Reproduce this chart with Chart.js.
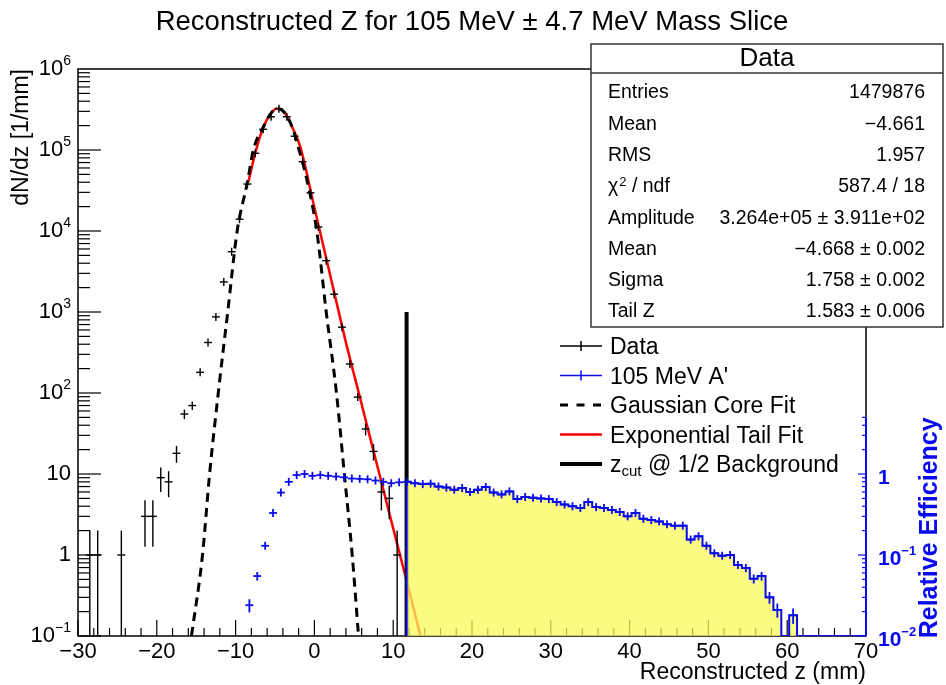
<!DOCTYPE html>
<html>
<head>
<meta charset="utf-8">
<title>Reconstructed Z</title>
<script src="https://cdn.jsdelivr.net/npm/chart.js@4.4.1/dist/chart.umd.min.js"></script>
<style>
  html, body { margin: 0; padding: 0; background: #fff; }
  #myChart { display: block; }
</style>
</head>
<body>
<canvas id="myChart" width="946" height="685"></canvas>
<script>
// measured data: bin centres (mm) and counts per 1 mm bin
const dataZ = [-28.5, -27.5, -24.5, -21.5, -20.5, -19.5, -18.5, -17.5, -16.5, -15.5, -14.5, -13.5, -12.5, -11.5, -10.5, -9.5, -8.5, -7.5, -6.5, -5.5, -4.5, -3.5, -2.5, -1.5, -0.5, 0.5, 1.5, 2.5, 3.5, 4.5, 5.5, 6.5, 7.5, 8.5, 9.5, 10.5];
const dataCounts = [1, 1, 1, 3, 3, 9, 8, 18, 55, 70, 180, 420, 870, 2350, 5550, 14000, 38000, 91000, 180000, 257000, 323000, 257000, 148000, 71800, 29600, 11200, 4300, 1660, 650, 228, 89, 36, 19, 6, 5, 1];

// 105 MeV A' signal, relative efficiency (right axis)
const aprimeZ = [-8.25, -7.25, -6.25, -5.25, -4.25, -3.25, -2.25, -1.25, -0.25, 0.75, 1.75, 2.75, 3.75, 4.75, 5.75, 6.75, 7.75, 8.75, 9.75, 10.75, 11.75, 12.75, 13.75, 14.75, 15.75, 16.75, 17.75, 18.75, 19.75, 20.75, 21.75, 22.75, 23.75, 24.75, 25.75, 26.75, 27.75, 28.75, 29.75, 30.75, 31.75, 32.75, 33.75, 34.75, 35.75, 36.75, 37.75, 38.75, 39.75, 40.75, 41.75, 42.75, 43.75, 44.75, 45.75, 46.75, 47.75, 48.75, 49.75, 50.75, 51.75, 52.75, 53.75, 54.75, 55.75, 56.75, 57.75, 58.75, 59.75, 60.75];
const aprimeEff = [0.024, 0.055, 0.13, 0.33, 0.59, 0.80, 0.97, 1.0, 0.95, 0.97, 0.95, 0.93, 0.91, 0.88, 0.87, 0.86, 0.83, 0.80, 0.77, 0.79, 0.80, 0.77, 0.75, 0.76, 0.70, 0.68, 0.64, 0.67, 0.60, 0.64, 0.69, 0.59, 0.56, 0.61, 0.49, 0.52, 0.51, 0.50, 0.49, 0.45, 0.42, 0.40, 0.38, 0.45, 0.39, 0.38, 0.36, 0.34, 0.30, 0.33, 0.28, 0.27, 0.26, 0.24, 0.23, 0.23, 0.155, 0.17, 0.13, 0.105, 0.098, 0.10, 0.075, 0.069, 0.051, 0.055, 0.030, 0.021, 0, 0.018];

// gaussian core fit (dashed)
const gausZ = [-15.6, -14.2, -13.3, -12.2, -11.0, -9.8, -8.5, -7.75, -6.5, -5.5, -4.7, -3.8, -2.8, -2.0, -1.0, 0.3, 1.5, 2.8, 3.8, 4.8, 5.6];
const gausVal = [0.1, 1, 10, 100, 1000, 1e4, 4e4, 1e5, 1.9e5, 2.85e5, 3.26e5, 2.9e5, 1.9e5, 1.05e5, 4.5e4, 1e4, 1000, 100, 10, 1, 0.1];

// exponential tail fit (red)
const tailZ = [-8.36, -7.5, -6.5, -5.5, -4.7, -3.8, -2.8, -1.8, 0, 2, 3.93, 6, 8, 10, 12, 13.46];
const tailVal = [4.1e4, 9.2e4, 1.9e5, 2.85e5, 3.26e5, 2.9e5, 1.9e5, 1.1e5, 1.95e4, 2850, 450, 72.6, 12.4, 2.13, 0.37, 0.1];

const zCut = 11.7;
const zCutTop = 1000;

const xMin = -30, xMax = 70;
const xLabels = ['\u221230', '\u221220', '\u221210', '0', '10', '20', '30', '40', '50', '60', '70'];
const yExps = [-1, 0, 1, 2, 3, 4, 5, 6];
const effExps = [-2, -1, 0];
const effAxisMax = 5;
const effNorm = 1200; // rough signal count at efficiency 1, for error bars

const statsRows = [
  ['Entries', '1479876'],
  ['Mean', '\u22124.661'],
  ['RMS', '1.957'],
  ['chi2', '587.4 / 18'],
  ['Amplitude', '3.264e+05 \u00b1 3.911e+02'],
  ['Mean', '\u22124.668 \u00b1 0.002'],
  ['Sigma', '1.758 \u00b1 0.002'],
  ['Tail Z', '1.583 \u00b1 0.006']
];

const FONT = '"Liberation Sans", Arial, Helvetica, sans-serif';
const BLUE = '#0a0af0';

const seg = (ctx, x1, y1, x2, y2) => {
  ctx.beginPath(); ctx.moveTo(x1, y1); ctx.lineTo(x2, y2); ctx.stroke();
};

// "10" with a raised exponent, ROOT style
const powLabel = (ctx, exp, x, y, align, size, bold) => {
  const w = bold ? 'bold ' : '';
  const big = `${w}${size}px ${FONT}`, small = `${w}${Math.round(size * 0.64)}px ${FONT}`;
  let base = '10', sup = '';
  if (exp === 0) base = '1';
  else if (exp !== 1) sup = String(exp).replace('-', '\u2212');
  ctx.font = big; const wb = ctx.measureText(base).width;
  ctx.font = small; const ws = sup ? ctx.measureText(sup).width : 0;
  const x0 = align === 'right' ? x - wb - ws : x;
  ctx.textAlign = 'left';
  ctx.textBaseline = 'middle'; ctx.font = big; ctx.fillText(base, x0, y);
  if (sup) { ctx.font = small; ctx.textBaseline = 'alphabetic'; ctx.fillText(sup, x0 + wb, y - size * 0.2); }
};

const rootPlugin = {
  id: 'rootStyle',
  beforeDatasetsDraw(chart) {
    const { ctx, chartArea: a, scales: { x, y } } = chart;
    ctx.save();
    ctx.strokeStyle = '#000';
    ctx.lineWidth = 1.5;
    ctx.strokeRect(a.left, a.top, a.right - a.left, a.bottom - a.top);
    ctx.lineWidth = 1.2;
    for (let v = xMin; v <= xMax; v += 2) {
      const px = x.getPixelForValue(v);
      seg(ctx, px, a.bottom, px, a.bottom - (v % 10 === 0 ? 16 : 8));
    }
    for (let e = yExps[0]; e < yExps[yExps.length - 1]; e++) {
      for (let m = 1; m < 10; m++) {
        const py = y.getPixelForValue(m * Math.pow(10, e));
        seg(ctx, a.left, py, a.left + (m === 1 ? 23 : 12), py);
      }
    }
    // tick labels
    ctx.fillStyle = '#000';
    ctx.font = `22px ${FONT}`;
    ctx.textAlign = 'center'; ctx.textBaseline = 'middle';
    xLabels.forEach((lab, i) => ctx.fillText(lab, x.getPixelForValue(xMin + 10 * i), 652));
    yExps.forEach(e => powLabel(ctx, e, 71, y.getPixelForValue(Math.pow(10, e)), 'right', 22, false));
    // axis titles
    ctx.font = `23px ${FONT}`;
    ctx.textAlign = 'right'; ctx.textBaseline = 'middle';
    ctx.fillText('Reconstructed z (mm)', a.right, 673);
    ctx.save();
    ctx.translate(22, a.top); ctx.rotate(-Math.PI / 2);
    ctx.fillText('dN/dz [1/mm]', 0, 0);
    ctx.restore();
    ctx.restore();
  },
  afterDatasetsDraw(chart) {
    const { ctx, chartArea: a, scales: { x, y, y2 } } = chart;
    ctx.save();
    ctx.beginPath(); ctx.rect(a.left, a.top, a.right - a.left, a.bottom - a.top); ctx.clip();
    // error-bar crosses
    chart.data.datasets.forEach(ds => {
      if (!ds.errKind) return;
      const ys = ds.yAxisID === 'y2' ? y2 : y;
      ctx.strokeStyle = ds.borderColor;
      ctx.lineWidth = ds.errKind === 'eff' ? 1.8 : 1.4;
      ds.data.forEach(p => {
        if (!(p.y > 0)) return;
        const px = x.getPixelForValue(p.x), py = ys.getPixelForValue(p.y);
        const err = ds.errKind === 'eff' ? Math.sqrt(p.y / effNorm) : Math.sqrt(p.y);
        let yTop = ys.getPixelForValue(p.y + err);
        let yBot = p.y - err > 0 ? ys.getPixelForValue(p.y - err) : a.bottom;
        yTop = Math.min(yTop, py - 4); yBot = Math.max(yBot, py + 4);
        seg(ctx, x.getPixelForValue(p.x - 0.5), py, x.getPixelForValue(p.x + 0.5), py);
        seg(ctx, px, yTop, px, yBot);
      });
    });
    ctx.restore();

    // right-hand efficiency axis
    ctx.save();
    const top2 = y2.getPixelForValue(effAxisMax);
    ctx.strokeStyle = BLUE; ctx.fillStyle = BLUE;
    ctx.lineWidth = 2;
    seg(ctx, a.right, top2, a.right, a.bottom);
    ctx.lineWidth = 1.2;
    for (let e = effExps[0]; e <= effExps[effExps.length - 1]; e++) {
      for (let m = 1; m < 10; m++) {
        const v = m * Math.pow(10, e);
        if (v > effAxisMax) break;
        const py = y2.getPixelForValue(v);
        seg(ctx, a.right, py, a.right - (m === 1 ? 8 : 4), py);
      }
    }
    effExps.forEach(e => powLabel(ctx, e, a.right + 12, y2.getPixelForValue(Math.pow(10, e)) + 4, 'left', 21, true));
    ctx.font = `bold 25px ${FONT}`;
    ctx.textAlign = 'right'; ctx.textBaseline = 'middle';
    ctx.translate(930, top2); ctx.rotate(-Math.PI / 2);
    ctx.fillText('Relative Efficiency', 0, 0);
    ctx.restore();
  },
  afterDraw(chart) {
    const { ctx } = chart;
    ctx.save();
    // title
    ctx.fillStyle = '#000';
    ctx.font = `27.5px ${FONT}`;
    ctx.textAlign = 'center'; ctx.textBaseline = 'middle';
    ctx.fillText('Reconstructed Z for 105 MeV \u00b1 4.7 MeV Mass Slice', 472, 22);

    // legend
    const lx0 = 560, lx1 = 602, lt = 610;
    const rowsY = [346, 375.5, 405, 434.5, 464];
    ctx.lineWidth = 1.5;
    ctx.strokeStyle = '#000'; seg(ctx, lx0, rowsY[0], lx1, rowsY[0]); seg(ctx, 581, rowsY[0] - 5, 581, rowsY[0] + 5);
    ctx.strokeStyle = BLUE; seg(ctx, lx0, rowsY[1], lx1, rowsY[1]); seg(ctx, 581, rowsY[1] - 5, 581, rowsY[1] + 5);
    ctx.strokeStyle = '#000'; ctx.lineWidth = 3; ctx.setLineDash([8, 8.5]);
    seg(ctx, lx0, rowsY[2], lx1, rowsY[2]); ctx.setLineDash([]);
    ctx.strokeStyle = '#ff0000'; ctx.lineWidth = 2.5; seg(ctx, lx0, rowsY[3], lx1, rowsY[3]);
    ctx.strokeStyle = '#000'; ctx.lineWidth = 4; seg(ctx, lx0, rowsY[4], lx1, rowsY[4]);
    ctx.font = `23px ${FONT}`;
    ctx.textAlign = 'left'; ctx.textBaseline = 'alphabetic';
    ['Data', "105 MeV A'", 'Gaussian Core Fit', 'Exponential Tail Fit'].forEach((t, i) => ctx.fillText(t, lt, rowsY[i] + 8));
    ctx.fillText('z', lt, rowsY[4] + 8);
    const wz = ctx.measureText('z').width;
    ctx.font = `15px ${FONT}`;
    ctx.fillText('cut', lt + wz, rowsY[4] + 12);
    const wc = ctx.measureText('cut').width;
    ctx.font = `23px ${FONT}`;
    ctx.fillText(' @ 1/2 Background', lt + wz + wc, rowsY[4] + 8);

    // stats box
    const bx0 = 591, bx1 = 943, by0 = 44, by1 = 327, bsep = 73;
    ctx.fillStyle = '#fff';
    ctx.fillRect(bx0, by0, bx1 - bx0, by1 - by0);
    ctx.strokeStyle = '#333'; ctx.lineWidth = 1.5;
    ctx.strokeRect(bx0, by0, bx1 - bx0, by1 - by0);
    seg(ctx, bx0, bsep, bx1, bsep);
    ctx.fillStyle = '#000';
    ctx.font = `26px ${FONT}`;
    ctx.textAlign = 'center'; ctx.textBaseline = 'middle';
    ctx.fillText('Data', (bx0 + bx1) / 2, 59);
    statsRows.forEach(([lab, val], i) => {
      const ry = 93 + 31.3 * i;
      ctx.font = `19.5px ${FONT}`;
      ctx.textAlign = 'left'; ctx.textBaseline = 'middle';
      if (lab === 'chi2') {
        ctx.fillText('\u03c7', 608, ry);
        const wchi = ctx.measureText('\u03c7').width;
        ctx.font = `13px ${FONT}`;
        ctx.textBaseline = 'alphabetic';
        ctx.fillText('2', 608 + wchi + 1, ry - 1);
        const w2 = ctx.measureText('2').width;
        ctx.font = `19.5px ${FONT}`; ctx.textBaseline = 'middle';
        ctx.fillText(' / ndf', 608 + wchi + 1 + w2, ry);
      } else {
        ctx.fillText(lab, 608, ry);
      }
      ctx.textAlign = 'right';
      ctx.fillText(val, 925, ry);
    });
    ctx.restore();
  }
};

const pts = (xs, ys) => xs.map((v, i) => ({ x: v, y: ys[i] }));

// yellow shaded signal region beyond z_cut, drawn as a histogram outline
const shaded = [{ x: zCut, y: 0.01 }];
let lastEdge = zCut;
aprimeZ.forEach((z, i) => {
  if (z + 0.5 <= zCut) return;
  shaded.push({ x: Math.max(z - 0.5, zCut), y: aprimeEff[i] > 0 ? aprimeEff[i] : 0.01 });
  lastEdge = z + 0.5;
});
shaded.push({ x: lastEdge, y: 0.01 }, { x: xMax, y: 0.01 });

const ctx = document.getElementById('myChart').getContext('2d');
const chart = new Chart(ctx, {
  type: 'line',
  data: {
    datasets: [
      { label: 'Data', data: pts(dataZ, dataCounts), showLine: false, borderColor: '#000', errKind: 'poisson', yAxisID: 'y', order: 0 },
      { label: "105 MeV A'", data: pts(aprimeZ, aprimeEff), showLine: false, borderColor: BLUE, errKind: 'eff', yAxisID: 'y2', order: 1 },
      { label: 'shaded', data: shaded, yAxisID: 'y2', stepped: true, borderColor: BLUE, borderWidth: 2, fill: 'start', backgroundColor: 'rgba(250,250,90,0.75)', order: 2 },
      { label: 'zcut', data: [{ x: zCut, y: 0.1 }, { x: zCut, y: zCutTop }], borderColor: '#000', borderWidth: 4, yAxisID: 'y', order: 3 },
      { label: 'Gaussian Core Fit', data: pts(gausZ, gausVal), borderColor: '#000', borderWidth: 3, borderDash: [9, 6], cubicInterpolationMode: 'monotone', yAxisID: 'y', order: 4 },
      { label: 'Exponential Tail Fit', data: pts(tailZ, tailVal), borderColor: '#ff0000', borderWidth: 2.5, cubicInterpolationMode: 'monotone', yAxisID: 'y', order: 5 }
    ]
  },
  options: {
    responsive: false,
    animation: false,
    devicePixelRatio: 1,
    layout: { padding: { left: 78, right: 80, top: 69, bottom: 49 } },
    elements: { point: { radius: 0 } },
    scales: {
      x: { type: 'linear', min: xMin, max: xMax, display: false },
      y: { type: 'logarithmic', min: 0.1, max: 1e6, display: false },
      y2: { type: 'logarithmic', min: 0.01, max: 1e5, display: false }
    },
    plugins: {
      legend: { display: false },
      tooltip: { enabled: false },
      title: { display: false }
    }
  },
  plugins: [rootPlugin]
});
</script>
</body>
</html>
